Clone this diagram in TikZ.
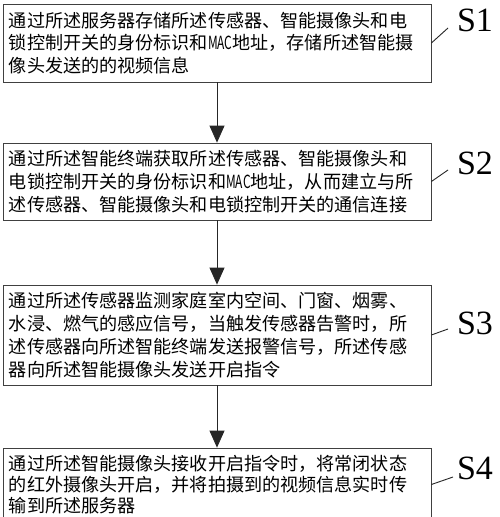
\documentclass[tikz,border=0pt]{standalone}
\usepackage{fontspec}
\setmainfont{Liberation Serif}
\newfontfamily\cjk{Noto Sans CJK SC}
\usetikzlibrary{arrows.meta}
\newcommand\macaddr{\scalebox{0.66}[1]{MAC}}

\begin{document}
\begin{tikzpicture}[x=1pt,y=-1pt,
  stepbox/.style={draw=black!75,line width=0.8pt,text width=416pt,align=left,
    inner xsep=6pt,inner ysep=0pt,font=\cjk\fontsize{18.1}{22.8}\selectfont},
  flow/.style={draw=black!85,line width=0.8pt,-{Triangle[width=15pt,length=17pt]}},
  lead/.style={draw=black!85,line width=0.9pt},
  steplab/.style={font=\fontsize{34}{34}\selectfont,inner sep=0pt}]
  \useasboundingbox (0,0) rectangle (500,517);
  \clip (0,0) rectangle (500,517);
  \fill[white] (0,0) rectangle (500,517);
  \node[stepbox,minimum height=78pt] (box1) at (217,43)
    {通过所述服务器存储所述传感器、智能摄像头和电\\
     锁控制开关的身份标识和\macaddr 地址，存储所述智能摄\\
     像头发送的的视频信息};
  \node[stepbox,minimum height=77pt] (box2) at (217,181.5)
    {通过所述智能终端获取所述传感器、智能摄像头和\\
     电锁控制开关的身份标识和\macaddr 地址，从而建立与所\\
     述传感器、智能摄像头和电锁控制开关的通信连接};
  \node[stepbox,minimum height=100pt] (box3) at (217,335)
    {通过所述传感器监测家庭室内空间、门窗、烟雾、\\
     水浸、燃气的感应信号，当触发传感器告警时，所\\
     述传感器向所述智能终端发送报警信号，所述传感\\
     器向所述智能摄像头发送开启指令};
  \node[stepbox,minimum height=73pt,font=\cjk\fontsize{18.1}{21.4}\selectfont]
    (box4) at (217,484.5)
    {通过所述智能摄像头接收开启指令时，将常闭状态\\
     的红外摄像头开启，并将拍摄到的视频信息实时传\\
     输到所述服务器};
  \foreach \i/\ty/\lx/\ly in {1/20/448/28,2/163/448/170,3/323/448/329,4/468/453/477}{
    \node[steplab] (s\i) at (475,\ty) {S\i};
    \coordinate (t\i) at (\lx,\ly);
    \draw[lead] (box\i.east) -- (t\i);
  }
  \foreach \a/\b in {1/2,2/3,3/4}
    \draw[flow] (box\a) -- (box\b);
\end{tikzpicture}
\end{document}
